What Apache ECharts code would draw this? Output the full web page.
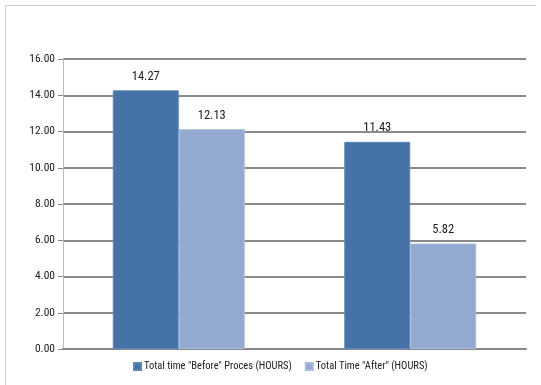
<!DOCTYPE html>
<html><head><meta charset="utf-8">
<script src="https://cdn.jsdelivr.net/npm/echarts@6/dist/echarts.min.js"></script>
<style>html,body{margin:0;padding:0;background:#fff}#c{width:541px;height:385px}</style>
</head><body><div id="c"></div>
<script>
var categories = ['Group 1', 'Group 2'];
var seriesNames = ['Total time "Before" Proces (HOURS)', 'Total Time "After" (HOURS)'];
var beforeValues = [14.27, 11.43];
var afterValues = [12.13, 5.82];
var yTicks = { min: 0, max: 16, interval: 2 };

var font = '"Roboto Condensed", "Liberation Sans", sans-serif';
var chart = echarts.init(document.getElementById('c'), null, { renderer: 'canvas' });
chart.setOption({
  animation: false,
  textStyle: { fontFamily: font },
  graphic: [
    { type: 'line', shape: { x1: 5.5, y1: 5.5, x2: 536, y2: 5.5 }, style: { stroke: '#d0d0d0', lineWidth: 1 } },
    { type: 'line', shape: { x1: 5.5, y1: 5.5, x2: 5.5, y2: 385 }, style: { stroke: '#d0d0d0', lineWidth: 1 } }
  ],
  grid: { left: 63, right: 15, top: 59, bottom: 36, containLabel: false },
  legend: {
    bottom: 8, left: 128,
    itemWidth: 7, itemHeight: 7, itemGap: 13,
    icon: 'rect',
    textStyle: { fontFamily: font, fontSize: 10.5, color: '#222', padding: [0, 0, 0, -2] },
    data: seriesNames
  },
  xAxis: {
    type: 'category', data: categories,
    axisLine: { lineStyle: { color: '#888', width: 2 } },
    axisTick: { show: false },
    axisLabel: { show: false },
    splitLine: { show: false }
  },
  yAxis: {
    type: 'value', min: yTicks.min, max: yTicks.max, interval: yTicks.interval,
    axisLine: { show: true, lineStyle: { color: '#bbb', width: 1 } },
    axisTick: { show: true, length: 5, lineStyle: { color: '#888' } },
    axisLabel: { fontFamily: font, fontSize: 11.5, color: '#222', margin: 8, formatter: function (v) { return v.toFixed(2); } },
    splitLine: { lineStyle: { color: '#8a8a8a', width: 2 } }
  },
  series: [
    {
      name: seriesNames[0], type: 'bar', data: beforeValues,
      barGap: '0%', barCategoryGap: '43%',
      itemStyle: { color: '#4572A7', borderColor: '#5a86bd', borderWidth: 1 },
      label: { show: true, position: 'top', distance: 7, fontFamily: font, fontSize: 12.5, color: '#222', formatter: function (p) { return p.value.toFixed(2); } }
    },
    {
      name: seriesNames[1], type: 'bar', data: afterValues,
      itemStyle: { color: '#93A9CF', borderColor: '#a8bcdd', borderWidth: 1 },
      label: { show: true, position: 'top', distance: 7, fontFamily: font, fontSize: 12.5, color: '#222', formatter: function (p) { return p.value.toFixed(2); } }
    }
  ]
});
</script></body></html>
